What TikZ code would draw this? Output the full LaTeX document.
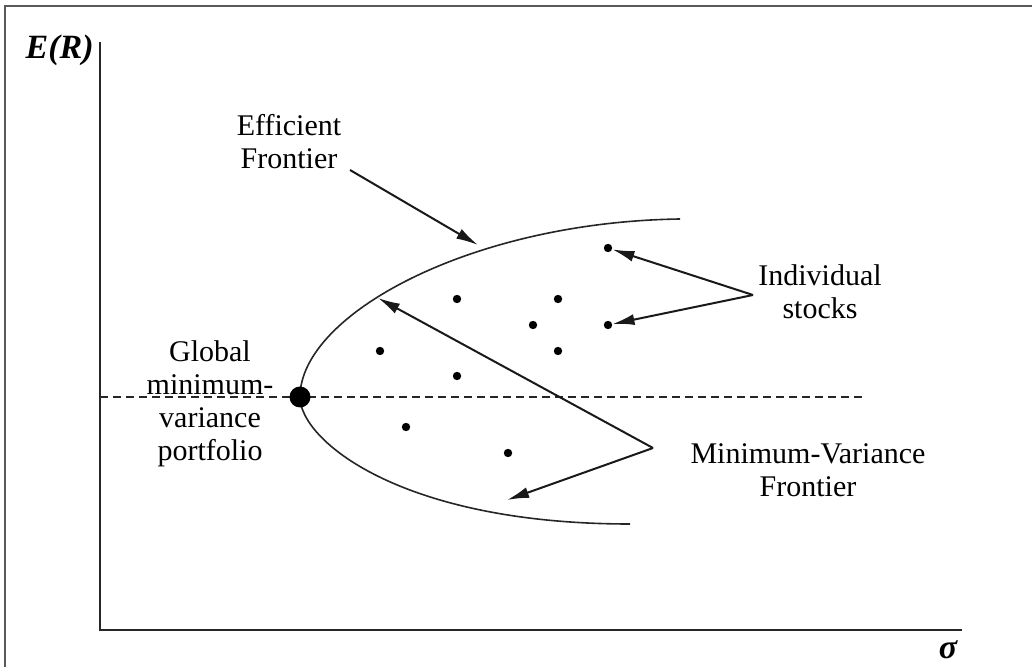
\documentclass[tikz,border=0pt]{standalone}
\usepackage{fontspec}
\setmainfont{Liberation Serif}
\usetikzlibrary{arrows.meta, positioning}

\begin{document}
\begin{tikzpicture}[
    x=0.5pt, y=-0.5pt,
    font=\fontsize{15}{16.5}\selectfont,
    txt/.style={align=center, inner sep=0pt},
    axislabel/.style={inner sep=0pt, font=\fontsize{17}{19}\selectfont\bfseries\itshape},
    stock/.style={circle, fill=black, inner sep=0pt, minimum size=4.2pt},
    axis/.style={line width=1pt, black!85},
    pointer/.style={-{Latex[length=11pt, width=5.5pt]}, line width=1pt, black!90},
    frontier/.style={line width=0.8pt, black!85},
    level/.style={line width=1pt, dash pattern=on 4pt off 2.5pt, black!85}
]

\useasboundingbox (0,0) rectangle (1032,667);

% Frame
\draw[gray!70!black, line width=0.6pt] (5,700) |- (1060,6);

% Axes
\coordinate (o) at (100,630);
\coordinate (ytop) at (100,42);
\coordinate (xend) at (962,630);
\draw[axis] (ytop) -- (o) -- (xend);
\node[axislabel, anchor=east] (er) at (94,50) {E(R)};
\node[axislabel, anchor=base] (sig) at (948,658) {σ};

% Global minimum-variance level
\coordinate (dl) at (100,397);
\coordinate (dr) at (865,397);
\draw[level] (dl) -- (dr);

% Minimum-variance frontier
\coordinate (vtx) at (300,397);
\coordinate (up) at (680,219);
\coordinate (lo) at (630,524);
\draw[frontier] (up) .. controls (470,222) and (300,315) .. (vtx)
                     .. controls (300,440) and (400,524) .. (lo);
\node[circle, fill=black, inner sep=0pt, minimum size=10.5pt] (gmvp) at (vtx) {};

% Individual stocks
\node[stock] (s1)  at (608,248) {};
\node[stock] (s2)  at (457,299) {};
\node[stock] (s3)  at (558,299) {};
\node[stock] (s4)  at (533,325) {};
\node[stock] (s5)  at (608,325) {};
\node[stock] (s6)  at (380,351) {};
\node[stock] (s7)  at (558,351) {};
\node[stock] (s8)  at (457,376) {};
\node[stock] (s9)  at (406,427) {};
\node[stock] (s10) at (508,453) {};

% Labels
\node[txt] (eff) at (289,142) {Efficient\\Frontier};
\node[txt] (ind) at (820,292) {Individual\\stocks};
\node[txt] (mvf) at (808,470) {Minimum-Variance\\Frontier};
\node[txt] (gmv) at (210,404) {Global\\minimum-\\variance\\portfolio};

% Pointers
\coordinate (effs) at (350,170);
\coordinate (efft) at (478,245);
\coordinate (inda) at (753,295);
\coordinate (mva)  at (653,448);
\coordinate (mvup) at (378,298);
\coordinate (mvlo) at (507,500);

\draw[pointer] (effs) -- (efft);
\draw[pointer] (inda) -- (s1);
\draw[pointer] (inda) -- (s5);
\draw[pointer] (mva) -- (mvup);
\draw[pointer] (mva) -- (mvlo);

\end{tikzpicture}
\end{document}
